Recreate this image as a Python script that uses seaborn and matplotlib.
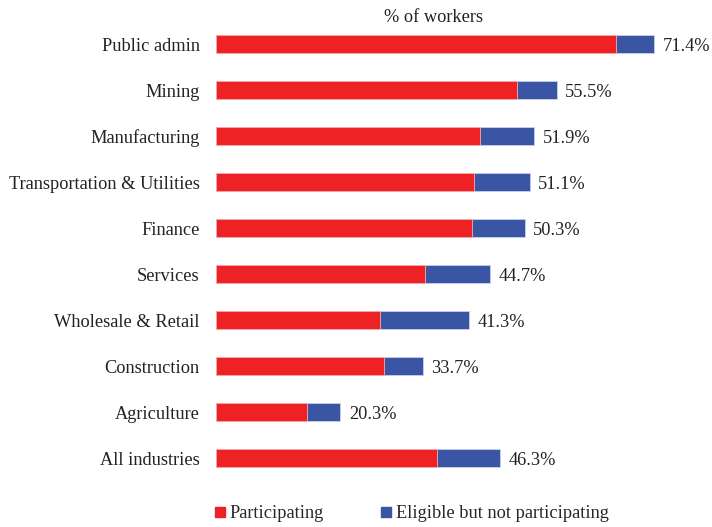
import matplotlib
matplotlib.use('Agg')
import matplotlib.pyplot as plt
import seaborn as sns
import pandas as pd
from matplotlib.lines import Line2D

industries = ['Public admin', 'Mining', 'Manufacturing', 'Transportation & Utilities',
              'Finance', 'Services', 'Wholesale & Retail', 'Construction',
              'Agriculture', 'All industries']
participating = [65.1, 49.1, 43.1, 42.0, 41.8, 34.1, 26.8, 27.4, 14.9, 36.1]
total_eligible = [71.4, 55.5, 51.9, 51.1, 50.3, 44.7, 41.3, 33.7, 20.3, 46.3]

red = '#EE2224'
blue = '#3A55A4'
fs = 13.2

df = pd.DataFrame({'industry': industries,
                   'participating': participating,
                   'total': total_eligible})

sns.set_style('white')
plt.rcParams['font.family'] = ['Liberation Serif', 'DejaVu Serif']

fig = plt.figure(figsize=(7.12, 5.27), dpi=100)
ax = fig.add_axes([0.303, 0.087, 0.69, 0.873])

# total first (blue), participating on top (red)
sns.barplot(data=df, x='total', y='industry', orient='h', color=blue,
            width=0.39, ax=ax, saturation=1, edgecolor='#c8d0ea', linewidth=0.6)
sns.barplot(data=df, x='participating', y='industry', orient='h', color=red,
            width=0.39, ax=ax, saturation=1, edgecolor='#f5b0b0', linewidth=0.6)

for i, v in enumerate(df['total']):
    ax.text(v + 1.4, i + 0.05, f'{v:.1f}%', va='center', ha='left',
            fontsize=fs, color='#222222')

ax.set_xlim(0, 80)
ax.set_ylim(9.5, -0.5)
ax.set_xlabel('')
ax.set_ylabel('')
ax.set_xticks([])
ax.tick_params(axis='y', length=0, labelsize=fs, labelcolor='#222222', pad=11.5)
for s in ax.spines.values():
    s.set_visible(False)

fig.text(434 / 712, 1 - 17 / 527, '% of workers', ha='center', va='center',
         fontsize=fs, color='#222222')

handles = [Line2D([0], [0], marker='s', linestyle='', markersize=7.2,
                  markerfacecolor=red, markeredgecolor=red),
           Line2D([0], [0], marker='s', linestyle='', markersize=7.2,
                  markerfacecolor=blue, markeredgecolor=blue)]
fig.legend(handles, ['Participating', 'Eligible but not participating'],
           loc='center left', bbox_to_anchor=(196 / 712, 1 - 514 / 527),
           ncol=2, frameon=False, fontsize=fs, handletextpad=0.15,
           columnspacing=2.95, handlelength=0.8)

fig.savefig('out.png', dpi=100)
